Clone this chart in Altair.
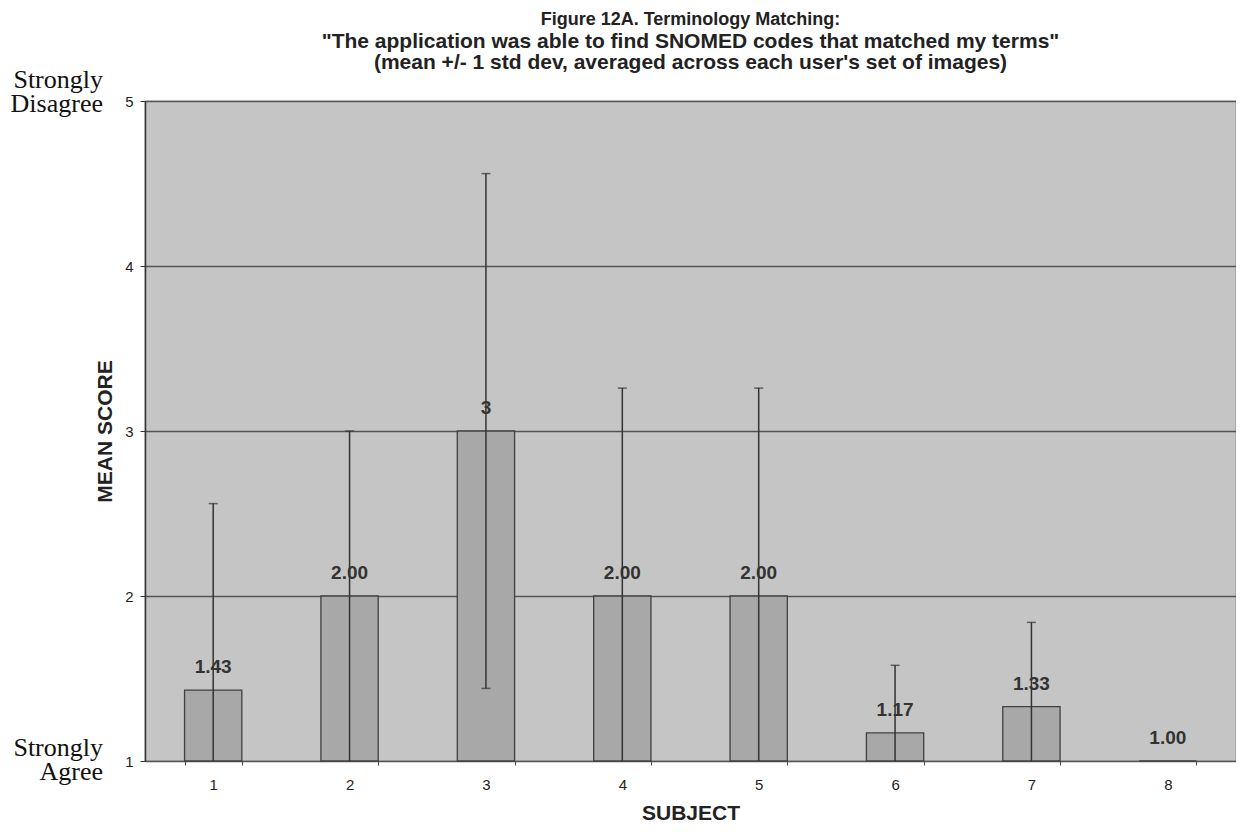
import altair as alt
import pandas as pd
import numpy as np

subjects = ["1", "2", "3", "4", "5", "6", "7", "8"]
means = [1.43, 2.00, 3.00, 2.00, 2.00, 1.17, 1.33, 1.00]
sds = [1.13, 1.00, 1.56, 1.26, 1.26, 0.41, 0.51, 0.00]
labels = ["1.43", "2.00", "3", "2.00", "2.00", "1.17", "1.33", "1.00"]
y_ticks = [1, 2, 3, 4, 5]

title_line = "Figure 12A. Terminology Matching:"
subtitle_lines = [
    "\"The application was able to find SNOMED codes that matched my terms\"",
    "(mean +/- 1 std dev, averaged across each user's set of images)",
]
ann_top = ["Strongly", "Disagree"]
ann_bottom = ["Strongly", "Agree"]

df = pd.DataFrame({"subject": subjects, "mean": means, "sd": sds, "label": labels})
df["upper"] = df["mean"] + df["sd"]
df["lower"] = np.maximum(df["mean"] - df["sd"], 1.0)
err = df[df["sd"] > 0]
low_caps = err[(err["mean"] - err["sd"]) > 1.0]

SANS = "Liberation Sans"
SERIF = "Liberation Serif"

x_enc = alt.X(
    "subject:N",
    sort=subjects,
    scale=alt.Scale(paddingInner=0.58, paddingOuter=0.29),
    axis=alt.Axis(
        title="SUBJECT",
        labelAngle=0,
        tickBand="extent",
        tickSize=4,
        tickColor="#444",
        domainColor="#555",
        labelFont=SANS,
        labelFontSize=15,
        labelColor="#222",
        labelPadding=12,
        titleFont=SANS,
        titleFontSize=21,
        titleFontWeight="bold",
        titleColor="#222",
        titlePadding=10,
    ),
)
y_scale = alt.Scale(domain=[1, 5], zero=False, nice=False)
y_axis = alt.Axis(
    title="MEAN SCORE",
    values=y_ticks,
    format="d",
    grid=True,
    gridColor="#555555",
    gridWidth=1.3,
    tickSize=5,
    tickColor="#333",
    domainColor="#333",
    domainWidth=1.5,
    labelFont=SANS,
    labelFontSize=15,
    labelColor="#222",
    labelPadding=7,
    titleFont=SANS,
    titleFontSize=21,
    titleFontWeight="bold",
    titleColor="#222",
    titlePadding=9,
)

base = alt.Chart(df)

bars = base.mark_bar(fill="#a8a8a8", stroke="#404040", strokeWidth=1.3).encode(
    x=x_enc,
    y=alt.Y("mean:Q", scale=y_scale, axis=y_axis),
    y2=alt.datum(1),
)

rules = alt.Chart(err).mark_rule(color="#333333", strokeWidth=1.5).encode(
    x=alt.X("subject:N", sort=subjects),
    y="lower:Q",
    y2="upper:Q",
)
caps_up = alt.Chart(err).mark_tick(color="#333333", size=9, thickness=1.5).encode(
    x=alt.X("subject:N", sort=subjects),
    y="upper:Q",
)
caps_low = alt.Chart(low_caps).mark_tick(color="#333333", size=9, thickness=1.5).encode(
    x=alt.X("subject:N", sort=subjects),
    y="lower:Q",
)

texts = base.mark_text(
    font=SANS, fontSize=19, fontWeight="bold", color="#333333", dy=-23, baseline="middle"
).encode(
    x=alt.X("subject:N", sort=subjects),
    y="mean:Q",
    text="label:N",
)

ann_layers = []
for value, lines, dys in [(5, ann_top, (-21, 3)), (1, ann_bottom, (-13, 11))]:
    for line, dy in zip(lines, dys):
        ann_layers.append(
            alt.Chart(pd.DataFrame({"t": [line]})).mark_text(
                font=SERIF, fontSize=26, color="#111111", align="right",
                baseline="middle", dy=dy,
            ).encode(x=alt.value(-42), y=alt.datum(value), text="t:N")
        )

chart = alt.layer(bars, rules, caps_up, caps_low, texts, *ann_layers).properties(
    width=1091,
    height=660,
    background="white",
    title=alt.Title(
        text=title_line,
        subtitle=subtitle_lines,
        font=SANS,
        fontSize=18,
        fontWeight="bold",
        color="#222222",
        subtitleFont=SANS,
        subtitleFontSize=21,
        subtitleFontWeight="bold",
        subtitleColor="#222222",
        subtitleLineHeight=21,
        subtitlePadding=2,
        anchor="middle",
        offset=-6,
    ),
    autosize=alt.AutoSizeParams(type="none"),
    padding={"left": 137, "top": 93, "right": 0, "bottom": 63},
).configure_view(
    fill="#c5c5c5", stroke="#666666", strokeWidth=1.2
)

chart.save("out.html", embed_options={"renderer": "svg", "actions": False})
